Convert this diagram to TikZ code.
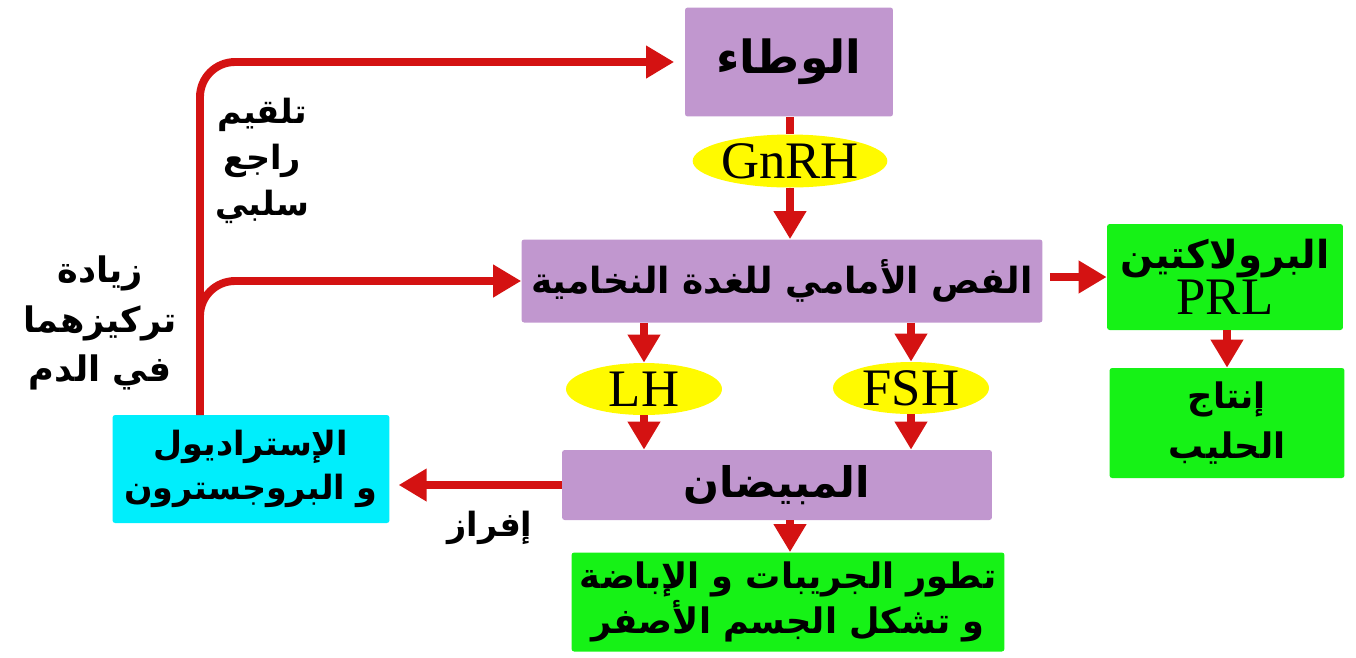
\documentclass[tikz,border=0pt]{standalone}
\usepackage{fontspec}
\usepackage{tikz}
\usetikzlibrary{shapes.geometric,arrows.meta}
\setmainfont{Liberation Serif}
\newfontfamily\arabicfont[Script=Arabic]{DejaVu Sans}
\TeXXeTstate=1
\newcommand{\arb}[1]{{\arabicfont\bfseries\beginR #1\endR}}
\definecolor{organpurple}{RGB}{193,151,207}
\definecolor{effectgreen}{RGB}{22,242,22}
\definecolor{steroidcyan}{RGB}{0,238,252}
\definecolor{hormyellow}{RGB}{255,250,0}
\definecolor{arrowred}{RGB}{212,18,18}

\begin{document}
\begin{tikzpicture}[x=0.02cm,y=-0.02cm,
  organ/.style={fill=#1, rounded corners=1.5pt, inner sep=0pt, align=center,
    font=\fontsize{19}{25}\selectfont},
  hormone/.style={ellipse, fill=hormyellow, inner sep=0pt, minimum width=3.12cm,
    minimum height=1.04cm, font=\fontsize{30}{30}\selectfont},
  redarrow/.style={draw=arrowred, line width=4.5pt, -{Triangle[length=0.56cm,width=0.62cm]}},
  redline/.style={draw=arrowred, line width=4.5pt},
  note/.style={align=center, font=\fontsize{19}{26}\selectfont}]
\useasboundingbox (0,0) rectangle (1356,657);
\node[organ=organpurple, minimum width=4.16cm, minimum height=2.18cm, font=\fontsize{26}{30}\selectfont] (wata) at (789,62) {\arb{الوطاء}};
\node[hormone, minimum width=3.36cm, minimum height=1.06cm] (gnrh) at (790,161) {GnRH};
\node[organ=organpurple, minimum width=10.42cm, minimum height=1.66cm, font=\fontsize{20.5}{25}\selectfont] (ant) at (782,281) {\arb{الفص الأمامي للغدة النخامية}};
\node[organ=effectgreen, minimum width=4.72cm, minimum height=2.12cm, font=\fontsize{22}{25}\selectfont] (prl) at (1225,277) {\arb{البرولاكتين}\\{\fontsize{30}{30}\selectfont PRL}};
\node[organ=effectgreen, minimum width=4.7cm, minimum height=2.2cm, font=\fontsize{20}{28}\selectfont] (milk) at (1227,423) {\arb{إنتاج}\\\arb{الحليب}};
\node[hormone] (lh) at (644,389) {LH};
\node[hormone] (fsh) at (911,388) {FSH};
\node[organ=organpurple, minimum width=8.6cm, minimum height=1.4cm, font=\fontsize{24}{30}\selectfont] (ovary) at (777,485) {\arb{المبيضان}};
\node[organ=effectgreen, minimum width=8.66cm, minimum height=1.98cm, font=\fontsize{20}{25.5}\selectfont] (follicle) at (788,602) {\arb{تطور الجريبات و الإباضة}\\\arb{و تشكل الجسم الأصفر}};
\node[organ=steroidcyan, minimum width=5.54cm, minimum height=2.16cm] (steroids) at (251,469) {\arb{الإستراديول}\\\arb{و البروجسترون}};
\node[note] (feedback) at (262,161) {\arb{تلقيم}\\\arb{راجع}\\\arb{سلبي}};
\node[note, font=\fontsize{20}{28}\selectfont] (rise) at (100,323) {\arb{زيادة}\\\arb{تركيزهما}\\\arb{في الدم}};
\node[note] (secrete) at (490,528) {\arb{إفراز}};
\coordinate (riser) at (200,415);
\coordinate (fork) at (200,335);
\draw[redline] (wata.south -| gnrh) -- (gnrh.north);
\draw[redarrow] (gnrh.south) -- (ant.north -| gnrh);
\draw[redarrow] (ant.south -| lh) -- (lh.north);
\draw[redarrow] (ant.south -| fsh) -- (fsh.north);
\draw[redarrow] (lh.south) -- (ovary.north -| lh);
\draw[redarrow] (fsh.south) -- (ovary.north -| fsh);
\draw[redarrow] (ovary.south -| gnrh) -- (follicle.north -| gnrh);
\draw[redarrow, shorten <=4pt] (ant.east |- prl.west) -- (prl.west);
\draw[redarrow] (prl.south -| milk) -- (milk.north);
\draw[redarrow, shorten >=5pt] (ovary.west) -- (ovary.west -| steroids.east);
\draw[redarrow, rounded corners=0.7cm, shorten >=6pt] (riser) |- (wata.west);
\draw[redarrow, rounded corners=0.7cm] (fork) |- (ant.west);
\end{tikzpicture}
\end{document}
